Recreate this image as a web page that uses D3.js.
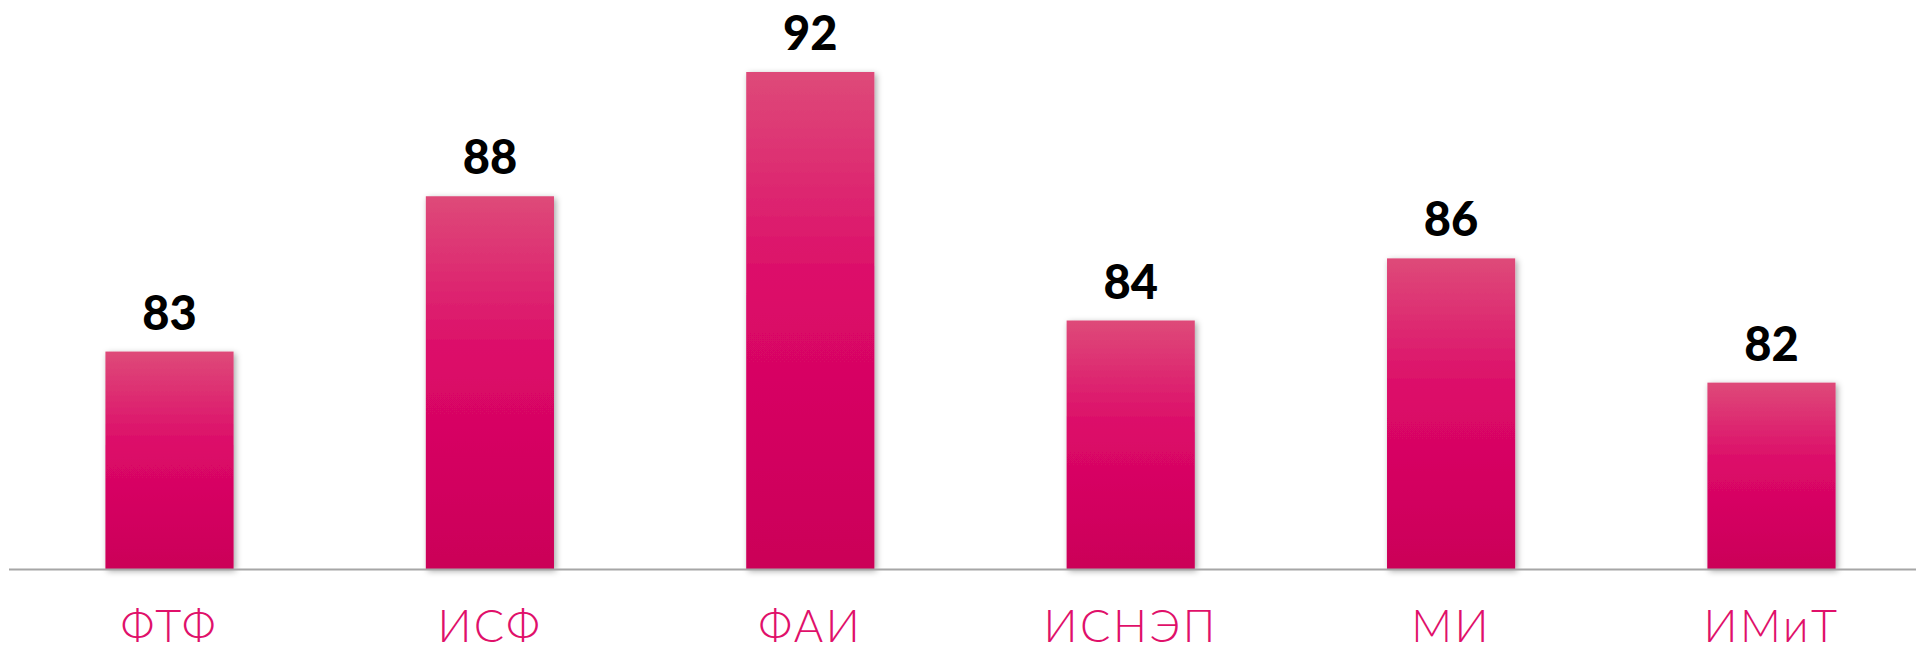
<!DOCTYPE html>
<html>
<head>
<meta charset="utf-8">
<script src="https://cdn.jsdelivr.net/npm/d3@7/dist/d3.min.js"></script>
<style>
  html, body { margin: 0; padding: 0; background: #fff; overflow: hidden; }
  svg { display: block; }
</style>
</head>
<body>
<svg id="chart" width="1916" height="653"></svg>
<script>
// Faculty scores
const categories = ["ФТФ", "ИСФ", "ФАИ", "ИСНЭП", "МИ", "ИМиТ"];
const values = [83, 88, 92, 84, 86, 82];

const W = 1916, H = 653;
const svg = d3.select("#chart");

const x = d3.scaleBand()
  .domain(categories)
  .range([9.3, 1931.7])
  .paddingInner(0.6)
  .paddingOuter(0.3);

const y = d3.scaleLinear()
  .domain([76, 92])
  .range([569, 72]);

const defs = svg.append("defs");
const grad = defs.append("linearGradient")
  .attr("id", "barFill")
  .attr("x1", 0).attr("y1", 0).attr("x2", 0).attr("y2", 1);
grad.append("stop").attr("offset", "0%").attr("stop-color", "#de4a79");
grad.append("stop").attr("offset", "45%").attr("stop-color", "#dc0868");
grad.append("stop").attr("offset", "100%").attr("stop-color", "#cb0058");

const shadow = defs.append("filter")
  .attr("id", "barShadow")
  .attr("x", "-20%").attr("y", "-10%").attr("width", "140%").attr("height", "120%");
shadow.append("feDropShadow")
  .attr("dx", 2).attr("dy", 2).attr("stdDeviation", 3)
  .attr("flood-color", "#000").attr("flood-opacity", 0.35);

// bars
svg.append("g")
  .selectAll("rect")
  .data(values)
  .join("rect")
  .attr("x", (d, i) => x(categories[i]))
  .attr("y", d => y(d))
  .attr("width", x.bandwidth())
  .attr("height", d => y(76) - y(d))
  .attr("fill", "url(#barFill)")
  .attr("filter", "url(#barShadow)");

// baseline
svg.append("line")
  .attr("x1", 9).attr("x2", W)
  .attr("y1", y(76) + 0.5).attr("y2", y(76) + 0.5)
  .attr("stroke", "#a6a6a6")
  .attr("stroke-width", 2);

// value labels
svg.append("g")
  .selectAll("text")
  .data(values)
  .join("text")
  .attr("x", (d, i) => x(categories[i]) + x.bandwidth() / 2)
  .attr("y", d => y(d) - 22)
  .attr("text-anchor", "middle")
  .attr("font-family", "Lato, 'DejaVu Sans', sans-serif")
  .attr("font-weight", 900)
  .attr("font-size", 47)
  .attr("fill", "#000")
  .text(d => d);

// category labels
svg.append("g")
  .selectAll("text")
  .data(categories)
  .join("text")
  .attr("x", d => x(d) + x.bandwidth() / 2)
  .attr("y", 642)
  .attr("text-anchor", "middle")
  .attr("font-family", "Lato, 'Noto Sans', sans-serif")
  .attr("font-weight", 300)
  .attr("font-size", 45)
  .attr("letter-spacing", 2.5)
  .attr("fill", "#e0106a")
  .text(d => d);
</script>
</body>
</html>
